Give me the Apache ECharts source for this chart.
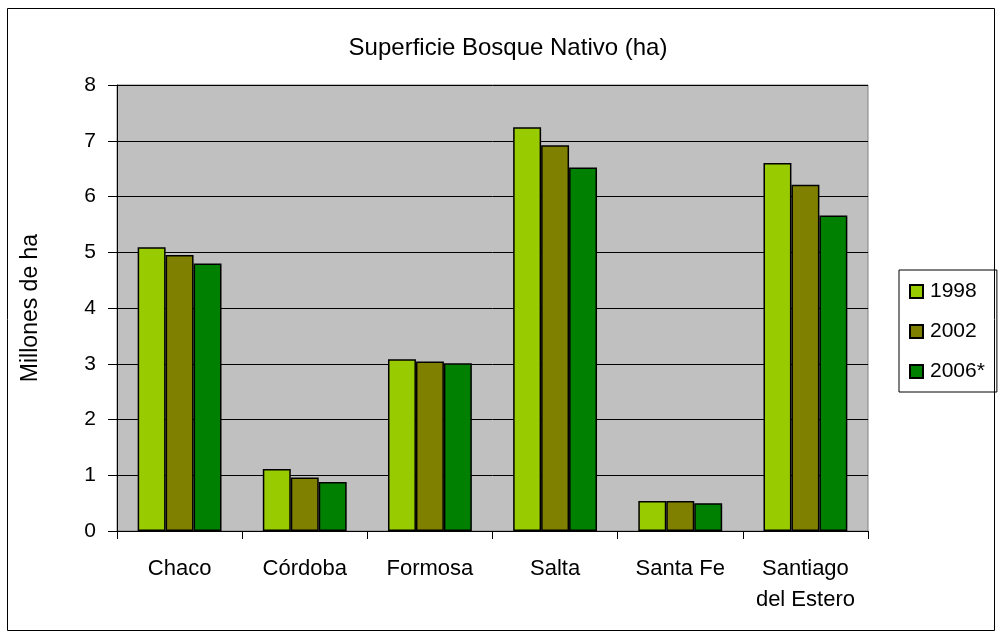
<!DOCTYPE html>
<html>
<head>
<meta charset="utf-8">
<script src="https://cdn.jsdelivr.net/npm/echarts@6/dist/echarts.min.js"></script>
<style>
  html, body { margin: 0; padding: 0; background: #fff; }
  #chart { width: 1001px; height: 636px; }
</style>
</head>
<body>
<div id="chart"></div>
<script>
  var provincias = ['Chaco', 'Córdoba', 'Formosa', 'Salta', 'Santa Fe', 'Santiago\ndel Estero']
  var anios = ['1998', '2002', '2006*']
  var datos1998 = [5.09, 1.11, 3.08, 7.24, 0.54, 6.60]
  var datos2002 = [4.95, 0.96, 3.04, 6.92, 0.54, 6.21]
  var datos2006 = [4.80, 0.88, 3.01, 6.52, 0.50, 5.66]
  var colores = ['#99CC00', '#808000', '#008000']

  var myChart = echarts.init(document.getElementById('chart'))
  var fuente = 'Liberation Sans, Arial, sans-serif'

  function serie (nombre, datos, color) {
    return {
      name: nombre,
      type: 'bar',
      data: datos,
      barGap: '0%',
      barCategoryGap: '33%',
      itemStyle: { color: color, borderColor: '#000', borderWidth: 1.5 }
    }
  }

  var option = {
    animation: false,
    textStyle: { fontFamily: fuente },
    title: {
      text: 'Superficie Bosque Nativo (ha)',
      left: 503, top: 31, textAlign: 'center',
      textStyle: { fontSize: 24, fontWeight: 'normal', color: '#000', fontFamily: fuente }
    },
    graphic: [{
      type: 'rect',
      shape: { x: 7.5, y: 8.5, width: 987, height: 622 },
      style: { fill: 'none', stroke: '#000', lineWidth: 1 },
      silent: true
    }],
    legend: {
      data: anios,
      orient: 'vertical',
      left: 899, top: 270,
      padding: [11, 12, 10, 10],
      itemGap: 19,
      itemWidth: 13, itemHeight: 13,
      borderColor: '#000', borderWidth: 1,
      icon: 'rect',
      textStyle: { fontSize: 21, color: '#000', fontFamily: fuente, padding: [0, 0, 0, 2] }
    },
    grid: {
      left: 117, right: 133, top: 85, bottom: 105,
      show: true, backgroundColor: '#C0C0C0', borderColor: '#808080', borderWidth: 1,
      containLabel: false
    },
    xAxis: {
      type: 'category',
      data: provincias,
      axisLine: { lineStyle: { color: '#000', width: 1 } },
      axisTick: { show: true, interval: 0, length: 8, lineStyle: { color: '#000' } },
      axisLabel: { interval: 0, fontSize: 22, color: '#000', margin: 22, lineHeight: 31, fontFamily: fuente },
      splitLine: { show: false }
    },
    yAxis: {
      type: 'value',
      min: 0, max: 8, interval: 1,
      name: 'Millones de ha',
      nameLocation: 'middle',
      nameGap: 75,
      nameTextStyle: { fontSize: 23, color: '#000', fontFamily: fuente },
      axisLine: { show: true, lineStyle: { color: '#000', width: 1 } },
      axisTick: { show: true, length: 9, lineStyle: { color: '#000' } },
      axisLabel: { fontSize: 21, color: '#000', margin: 21, fontFamily: fuente },
      splitLine: { show: true, lineStyle: { color: '#000', width: 1 } }
    },
    series: [
      serie(anios[0], datos1998, colores[0]),
      serie(anios[1], datos2002, colores[1]),
      serie(anios[2], datos2006, colores[2])
    ]
  }
  myChart.setOption(option)
</script>
</body>
</html>
